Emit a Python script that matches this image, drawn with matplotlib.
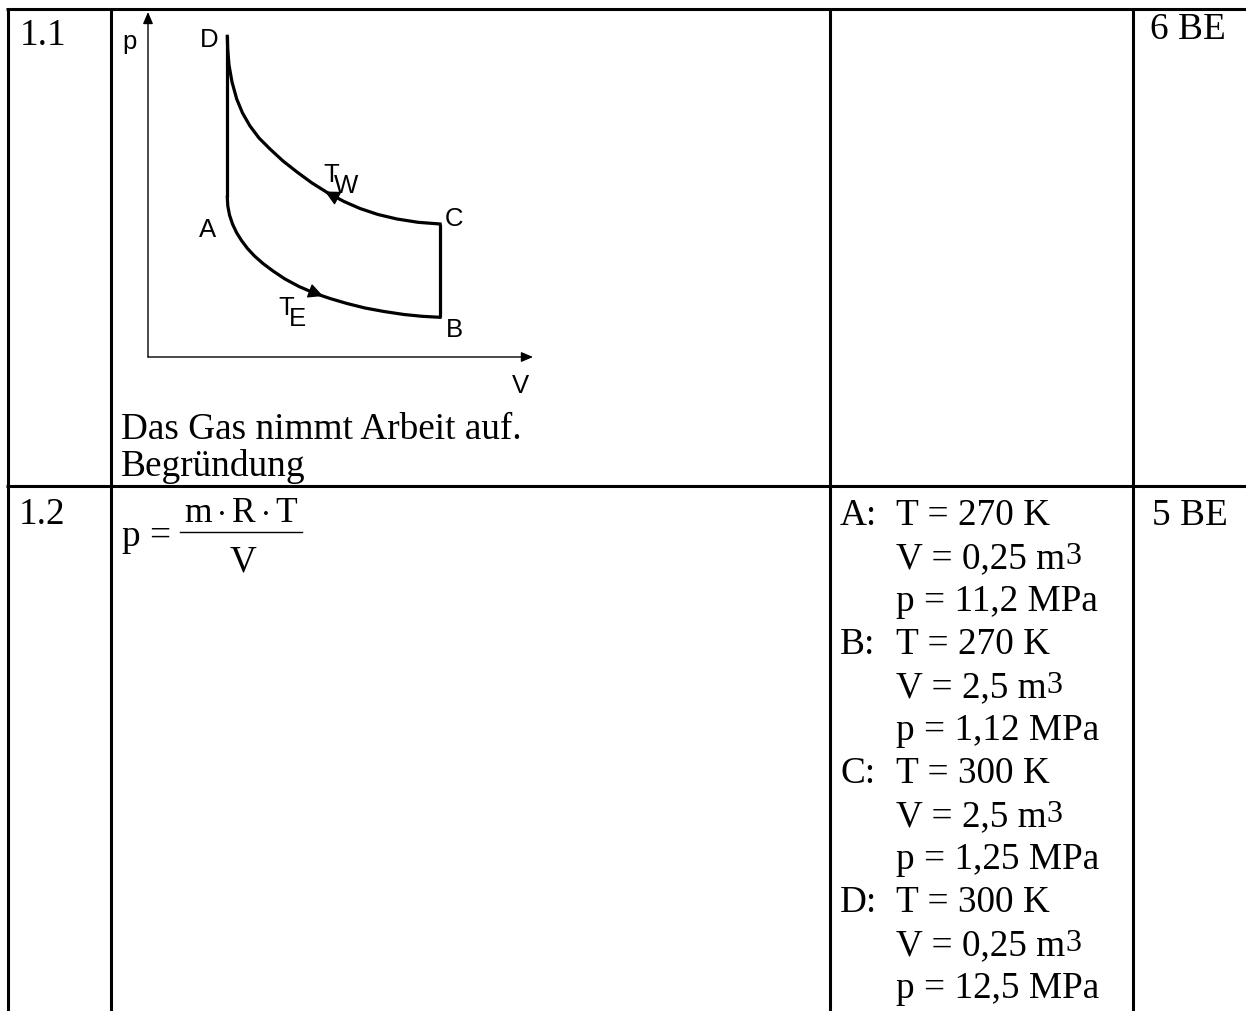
import matplotlib
matplotlib.use('Agg')
import matplotlib.pyplot as plt

# --- data ---
# p-V cycle in diagram units (origin of the drawn axes = 0,0)
axis_tips = (3.85, 3.45)            # end of V axis, end of p axis
point_D = (0.79, 3.21)
point_A = (0.79, 1.60)
point_B = (2.92, 0.40)
point_C = (2.92, 1.33)

# isotherm T_W, from D to C
upper_V = [0.793, 0.797, 0.81, 0.84, 0.887, 0.945, 1.02, 1.11, 1.22, 1.35,
           1.49, 1.64, 1.80, 1.96, 2.12, 2.30, 2.49, 2.70, 2.92]
upper_p = [3.207, 3.08, 2.92, 2.75, 2.58, 2.44, 2.31, 2.19, 2.08, 1.96,
           1.85, 1.74, 1.64, 1.555, 1.485, 1.425, 1.38, 1.347, 1.33]
# isotherm T_E, from A to B
lower_V = [0.793, 0.798, 0.815, 0.845, 0.885, 0.935, 0.995, 1.065, 1.15, 1.25,
           1.37, 1.51, 1.66, 1.82, 1.99, 2.17, 2.36, 2.56, 2.74, 2.92]
lower_p = [1.597, 1.51, 1.42, 1.33, 1.245, 1.165, 1.085, 1.01, 0.935, 0.86,
           0.78, 0.705, 0.64, 0.585, 0.535, 0.49, 0.455, 0.425, 0.407, 0.397]
# direction arrows on the isotherms: (tail, tip)
arrows = [((1.96, 1.555), (1.77, 1.655)),
          ((1.58, 0.675), (1.75, 0.61))]

states = ['A', 'B', 'C', 'D']
temps = ['270', '270', '300', '300']
volumes = ['0,25', '2,5', '2,5', '0,25']
pressures = ['11,2', '1,12', '1,25', '12,5']

task_numbers = ['1.1', '1.2']
points_be = ['6 BE', '5 BE']

W, H = 1246, 1012
plt.rcParams['mathtext.fontset'] = 'custom'
plt.rcParams['mathtext.rm'] = 'Liberation Serif'
plt.rcParams['mathtext.it'] = 'Liberation Serif:italic'

fig = plt.figure(figsize=(W / 100, H / 100), dpi=100)
ax = fig.add_axes([0, 0, 1, 1])
ax.set_xlim(0, W)
ax.set_ylim(H, 0)
ax.axis('off')

serif = dict(family='Liberation Serif', size=26.8, color='black')
sans = dict(family='Liberation Sans', size=18.5, color='black')

# table grid
col_edges = [7.5, 110.8, 830, 1132.5]
row_edges = [10, 486.5]
ax.vlines(col_edges, row_edges[0] - 1.5, H, color='black', lw=2.2)
ax.hlines(row_edges, col_edges[0] - 1.5, W, color='black', lw=2.2)

# first column / last column
ax.text(20, 45, task_numbers[0], ha='left', va='baseline', **serif)
ax.text(19, 524, task_numbers[1], ha='left', va='baseline', **serif)
ax.text(1150, 38.5, points_be[0], ha='left', va='baseline', **serif)
ax.text(1152, 525, points_be[1], ha='left', va='baseline', **serif)

# row 1 text
ax.text(121, 439, 'Das Gas nimmt Arbeit auf.', ha='left', va='baseline', **serif)
ax.text(121, 476, 'Begründung', ha='left', va='baseline', **serif)

# row 2 formula p = m.R.T / V
ax.text(122, 546, 'p =', ha='left', va='baseline', **serif)
ax.text(241, 522, r'$\mathrm{m \cdot R \cdot T}$', ha='center', va='baseline',
        family='Liberation Serif', size=25.5)
ax.text(242.5, 572, 'V', ha='center', va='baseline', **serif)
ax.plot([180, 302], [532.5, 532.5], color='black', lw=1.0)

# row 2 state values
y0, step = 525, 43.0
for i, s in enumerate(states):
    yb = y0 + 3 * i * step
    ax.text(840, yb, s + ':', ha='left', va='baseline', **serif)
    ax.text(896, yb, 'T = ' + temps[i] + ' K', ha='left', va='baseline', **serif)
    vt = ax.text(896, yb + step, 'V = ' + volumes[i] + ' m', ha='left',
                 va='baseline', **serif)
    ax.annotate('3', xy=(1.0, yb + step - 4), xycoords=(vt, 'data'),
                ha='left', va='baseline', family='Liberation Serif', size=23)
    ax.text(896, yb + 2 * step, 'p = ' + pressures[i] + ' MPa', ha='left',
            va='baseline', **serif)

# p-V diagram
dx = fig.add_axes([118 / W, 1 - 400 / H, 430 / W, 395 / H])
dx.set_xlim(-0.30, 4.00)
dx.set_ylim(-0.42, 3.53)
dx.axis('off')

ax_arrow = dict(arrowstyle='-|>,head_length=0.7,head_width=0.3', color='black',
                lw=1.0, mutation_scale=10, shrinkA=0, shrinkB=0)
dx.annotate('', xy=(axis_tips[0], 0), xytext=(0, 0), arrowprops=ax_arrow)
dx.annotate('', xy=(0, axis_tips[1]), xytext=(0, 0), arrowprops=ax_arrow)

lw = 2.3
dx.plot([point_D[0], point_A[0]], [point_D[1], point_A[1]], color='black', lw=lw,
        solid_capstyle='butt')
dx.plot([point_B[0], point_C[0]], [point_B[1], point_C[1]], color='black', lw=lw,
        solid_capstyle='butt')
dx.plot(upper_V, upper_p, color='black', lw=lw, solid_joinstyle='round')
dx.plot(lower_V, lower_p, color='black', lw=lw, solid_joinstyle='round')

cyc_arrow = dict(arrowstyle='-|>,head_length=0.9,head_width=0.45', color='black',
                 lw=1.0, mutation_scale=10, shrinkA=0, shrinkB=0)
for tail, tip in arrows:
    dx.annotate('', xy=tip, xytext=tail, arrowprops=cyc_arrow)

dx.text(-0.26, 3.09, 'p', ha='left', va='baseline', **sans)
dx.text(0.52, 3.11, 'D', ha='left', va='baseline', **sans)
dx.text(0.51, 1.21, 'A', ha='left', va='baseline', **sans)
dx.text(2.97, 1.32, 'C', ha='left', va='baseline', **sans)
dx.text(2.98, 0.21, 'B', ha='left', va='baseline', **sans)
dx.text(3.64, -0.35, 'V', ha='left', va='baseline', **sans)
dx.text(1.75, 1.76, 'T', ha='left', va='baseline', **sans)
dx.text(1.86, 1.65, 'W', ha='left', va='baseline', **sans)
dx.text(1.30, 0.43, 'T', ha='left', va='baseline', **sans)
dx.text(1.41, 0.32, 'E', ha='left', va='baseline', **sans)

fig.savefig('out.png', dpi=100)
